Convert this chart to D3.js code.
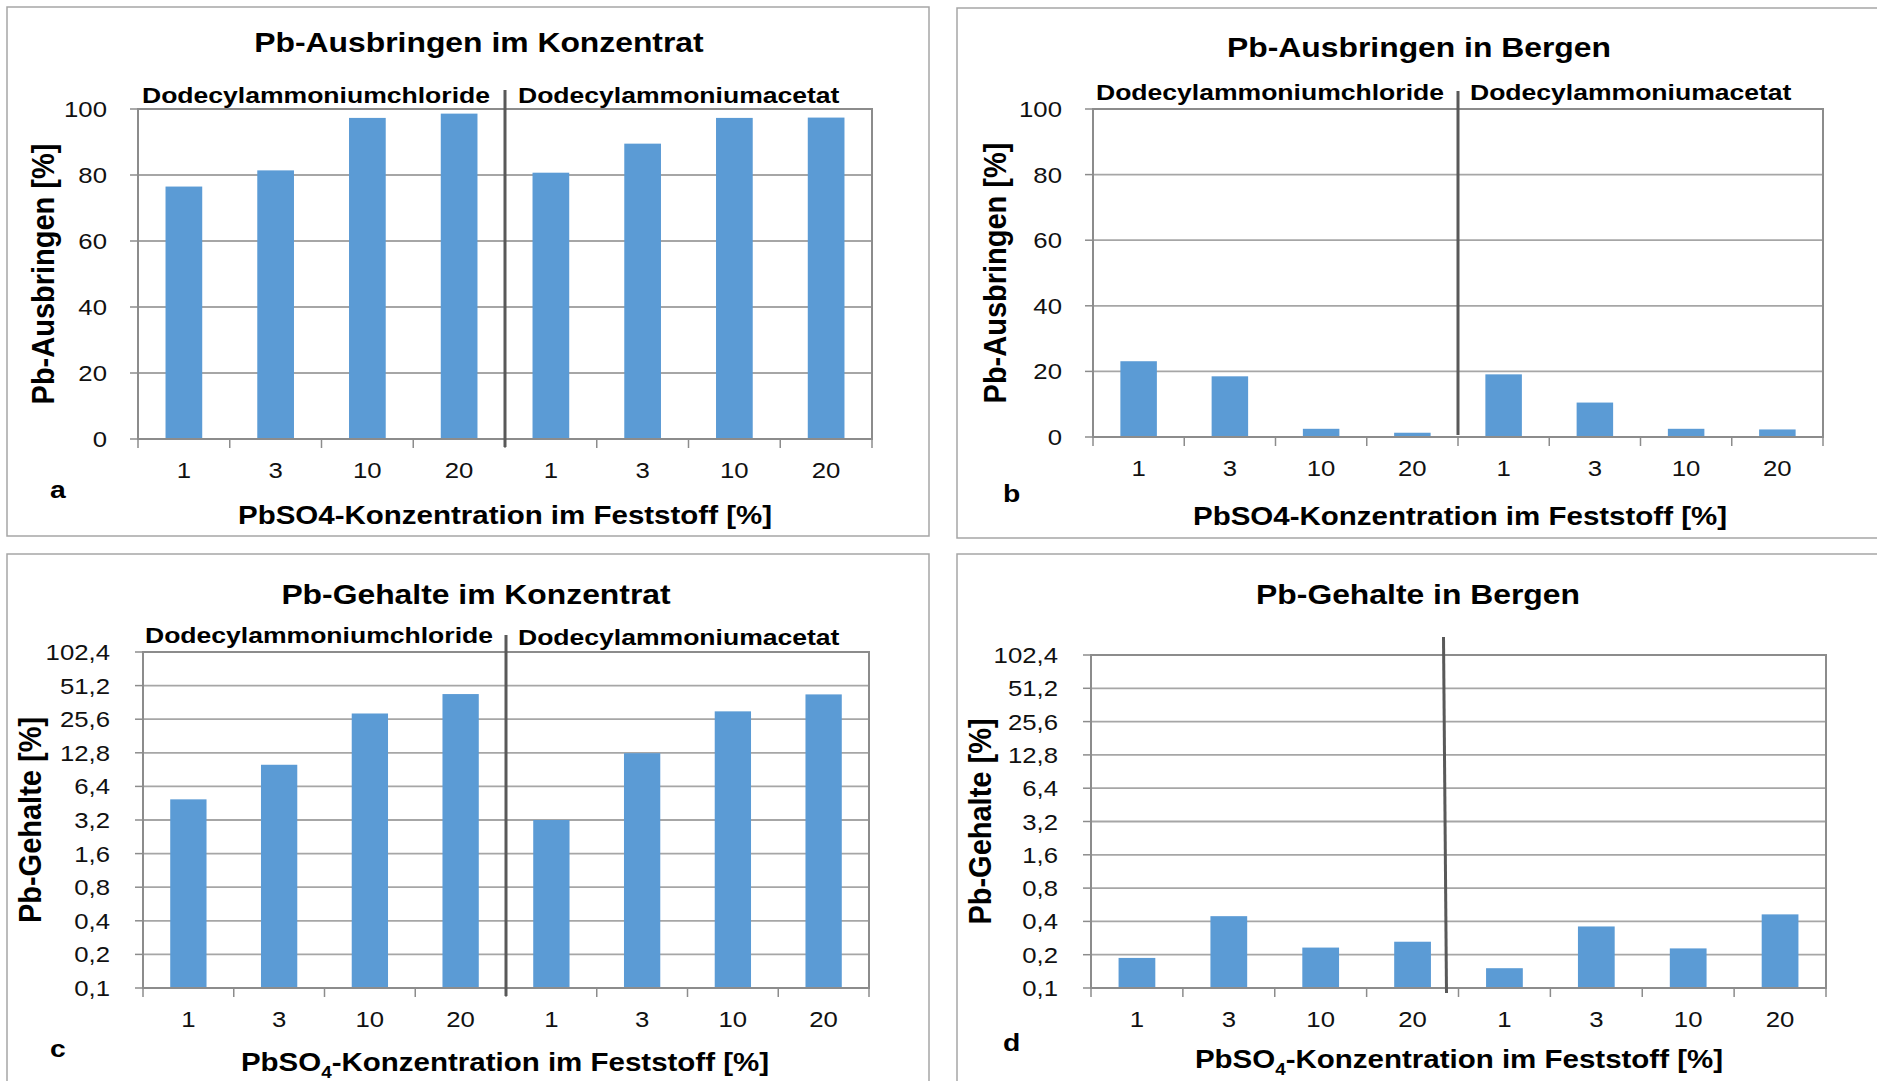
<!DOCTYPE html>
<head>
  <meta charset="utf-8">
  <title>Pb-Ausbringen und Pb-Gehalte</title>
  <script src="https://d3js.org/d3.v7.min.js"></script>
  <style>
    body { margin: 0; background: #fff; }
    svg { font-family: "Liberation Sans", Arial, sans-serif; }
    .frame { fill: none; stroke: #a6a6a6; stroke-width: 1.5px; }
    .grid-line { stroke: #a6a6a6; stroke-width: 1.8px; }
    .plot-border { fill: none; stroke: #8c8c8c; stroke-width: 2px; }
    .tick-mark { stroke: #8c8c8c; stroke-width: 1.5px; }
    .separator { stroke: #595959; stroke-width: 3px; }
    .bar { fill: #5b9bd5; }
    .tick-label { font-size: 23px; fill: #111; }
    .title { font-size: 27px; font-weight: bold; }
    .group-label { font-size: 22.5px; font-weight: bold; }
    .axis-title { font-size: 25px; font-weight: bold; }
    .y-title { font-size: 29px; font-weight: bold; }
    .letter { font-size: 24px; font-weight: bold; }
  </style>
</head>

<body>
  <script>
    // categories
    var concentrations = ["1", "3", "10", "20"];
    var reagents = ["Dodecylammoniumchloride", "Dodecylammoniumacetat"];

    // values (order: chloride 1,3,10,20 then acetate 1,3,10,20)
    var ausbringenKonzentrat = [76.5, 81.4, 97.3, 98.6, 80.7, 89.5, 97.3, 97.4];
    var ausbringenBergen = [23.1, 18.5, 2.5, 1.3, 19.1, 10.5, 2.5, 2.3];
    var gehalteKonzentrat = [4.9, 10.0, 28.8, 43.0, 3.2, 12.7, 30.1, 42.7];
    var gehalteBergen = [0.187, 0.446, 0.232, 0.262, 0.151, 0.36, 0.228, 0.463];

    // tick labels
    var linearTicks = [0, 20, 40, 60, 80, 100];
    var logTicks = [0.1, 0.2, 0.4, 0.8, 1.6, 3.2, 6.4, 12.8, 25.6, 51.2, 102.4];

    var SX = 1.18; // the source picture is a bit stretched sideways

    var categories = [];
    reagents.forEach(function(r) {
      concentrations.forEach(function(c) { categories.push(r + "|" + c); });
    });

    var svg = d3.select("body").append("svg")
      .attr("width", 1877)
      .attr("height", 1081);

    function addText(g, x, y, str, cls, anchor, sx) {
      return g.append("text")
        .attr("class", cls)
        .attr("text-anchor", anchor || "start")
        .attr("transform", "translate(" + x + "," + y + ") scale(" + (sx || SX) + ",1)")
        .text(str);
    }

    var panels = [
      {
        frame: [7, 7, 929, 536], plot: {l: 138, r: 872, t: 109, b: 439},
        log: false, values: ausbringenKonzentrat,
        title: "Pb-Ausbringen im Konzentrat", titlePos: [479, 52],
        groups: [[142, 103], [518, 103]],
        yTitle: "Pb-Ausbringen [%]", yTitleX: 42, yLabelX: 107,
        letter: "a", letterPos: [50, 498],
        xTitlePos: [505, 524], sub: false, sep: [90, 447, 0, 0]
      },
      {
        frame: [957, 8, 1895, 538], plot: {l: 1093, r: 1823, t: 109, b: 437},
        log: false, values: ausbringenBergen,
        title: "Pb-Ausbringen in Bergen", titlePos: [1419, 57],
        groups: [[1096, 100], [1470, 100]],
        yTitle: "Pb-Ausbringen [%]", yTitleX: 994, yLabelX: 1062,
        letter: "b", letterPos: [1003, 502],
        xTitlePos: [1460, 525], sub: false, sep: [91, 435, 0, 0]
      },
      {
        frame: [7, 554, 929, 1095], plot: {l: 143, r: 869, t: 652, b: 988},
        log: true, values: gehalteKonzentrat,
        title: "Pb-Gehalte im Konzentrat", titlePos: [476, 604],
        groups: [[145, 643], [518, 645]],
        yTitle: "Pb-Gehalte [%]", yTitleX: 29, yLabelX: 110,
        letter: "c", letterPos: [50, 1057],
        xTitlePos: [505, 1071], sub: true, sep: [635, 996, 0, 0]
      },
      {
        frame: [957, 554, 1895, 1095], plot: {l: 1091, r: 1826, t: 655, b: 988},
        log: true, values: gehalteBergen,
        title: "Pb-Gehalte in Bergen", titlePos: [1418, 604],
        groups: null,
        yTitle: "Pb-Gehalte [%]", yTitleX: 979, yLabelX: 1058,
        letter: "d", letterPos: [1003, 1051],
        xTitlePos: [1459, 1068], sub: true, sep: [637, 993, -15, -12]
      }
    ];

    var fmt = function(d) { return String(d).replace(".", ","); };

    panels.forEach(function(p) {
      var g = svg.append("g");
      var box = p.plot;

      g.append("rect")
        .attr("class", "frame")
        .attr("x", p.frame[0]).attr("y", p.frame[1])
        .attr("width", p.frame[2] - p.frame[0])
        .attr("height", p.frame[3] - p.frame[1]);

      var x = d3.scaleBand()
        .domain(categories)
        .range([box.l, box.r])
        .paddingInner(0.6)
        .paddingOuter(0.3);

      var y, ticks, base;
      if (p.log) {
        y = d3.scaleLog().base(2).domain([0.1, 102.4]).range([box.b, box.t]);
        ticks = logTicks;
        base = 0.1;
      } else {
        y = d3.scaleLinear().domain([0, 100]).range([box.b, box.t]);
        ticks = linearTicks;
        base = 0;
      }

      // grid
      g.selectAll(".grid-line")
        .data(ticks.slice(1, -1))
        .enter().append("line")
        .attr("class", "grid-line")
        .attr("x1", box.l).attr("x2", box.r)
        .attr("y1", function(d) { return y(d); })
        .attr("y2", function(d) { return y(d); });

      // y ticks and labels
      g.selectAll(".ytick")
        .data(ticks)
        .enter().append("line")
        .attr("class", "tick-mark")
        .attr("x1", box.l - 8).attr("x2", box.l)
        .attr("y1", function(d) { return y(d); })
        .attr("y2", function(d) { return y(d); });

      ticks.forEach(function(t) {
        addText(g, p.yLabelX, y(t) + 8, fmt(t), "tick-label", "end", 1.12);
      });

      // bars
      g.selectAll(".bar")
        .data(p.values)
        .enter().append("rect")
        .attr("class", "bar")
        .attr("x", function(d, i) { return x(categories[i]); })
        .attr("width", x.bandwidth())
        .attr("y", function(d) { return y(d); })
        .attr("height", function(d) { return y(base) - y(d); });

      // plot border
      g.append("rect")
        .attr("class", "plot-border")
        .attr("x", box.l).attr("y", box.t)
        .attr("width", box.r - box.l).attr("height", box.b - box.t);

      // x ticks at category boundaries
      var bounds = d3.range(categories.length + 1).map(function(i) {
        return box.l + i * x.step();
      });
      g.selectAll(".xtick")
        .data(bounds)
        .enter().append("line")
        .attr("class", "tick-mark")
        .attr("x1", function(d) { return d; })
        .attr("x2", function(d) { return d; })
        .attr("y1", box.b).attr("y2", box.b + 9);

      categories.forEach(function(c, i) {
        addText(g, x(c) + x.bandwidth() / 2, box.b + 39, c.split("|")[1], "tick-label", "middle", 1.12);
      });

      // separator between the two reagents
      var mid = box.l + concentrations.length * x.step();
      g.append("line")
        .attr("class", "separator")
        .attr("x1", mid + p.sep[2]).attr("y1", p.sep[0])
        .attr("x2", mid + p.sep[3]).attr("y2", p.sep[1]);

      // texts
      addText(g, p.titlePos[0], p.titlePos[1], p.title, "title", "middle");

      if (p.groups) {
        reagents.forEach(function(r, i) {
          addText(g, p.groups[i][0], p.groups[i][1], r, "group-label", "start");
        });
      }

      g.append("text")
        .attr("class", "y-title")
        .attr("text-anchor", "middle")
        .attr("dominant-baseline", "central")
        .attr("transform", "translate(" + p.yTitleX + "," + ((box.t + box.b) / 2) + ") scale(1.1,1) rotate(-90)")
        .text(p.yTitle);

      addText(g, p.letterPos[0], p.letterPos[1], p.letter, "letter", "start");

      var xt = addText(g, p.xTitlePos[0], p.xTitlePos[1], "", "axis-title", "middle");
      if (p.sub) {
        xt.append("tspan").text("PbSO");
        xt.append("tspan").attr("font-size", "16px").attr("dy", 7).text("4");
        xt.append("tspan").attr("dy", -7).text("-Konzentration im Feststoff [%]");
      } else {
        xt.text("PbSO4-Konzentration im Feststoff [%]");
      }
    });
  </script>
</body>
